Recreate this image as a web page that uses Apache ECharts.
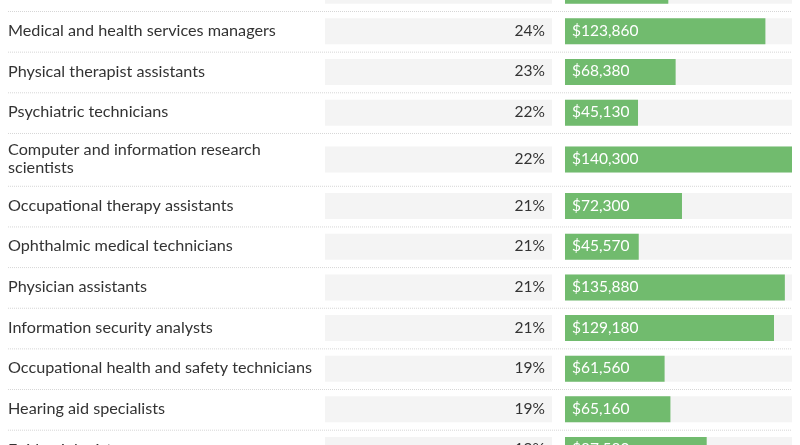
<!DOCTYPE html>
<html>
<head>
<meta charset="utf-8">
<script src="https://cdn.jsdelivr.net/npm/echarts@6/dist/echarts.min.js"></script>
<style>
html, body { margin: 0; padding: 0; background: #fff; }
#container { width: 800px; height: 445px; }
</style>
</head>
<body>
<div id="container"></div>
<script>
// rows as seen in the picture (first row is cut off at the top)
var jobs = [
    '',
    'Medical and health services managers',
    'Physical therapist assistants',
    'Psychiatric technicians',
    'Computer and information research\nscientists',
    'Occupational therapy assistants',
    'Ophthalmic medical technicians',
    'Physician assistants',
    'Information security analysts',
    'Occupational health and safety technicians',
    'Hearing aid specialists',
    'Epidemiologists'
];
var growth = [25, 24, 23, 22, 22, 21, 21, 21, 21, 19, 19, 19];
var salary = [63850, 123860, 68380, 45130, 140300, 72300, 45570, 135880, 129180, 61560, 65160, 87580];

var dom = document.getElementById('container');
var myChart = echarts.init(dom);

// each row takes one unit, wrapped labels take a bit more
var rows = [];
var pos = 0;
jobs.forEach(function (name, i) {
    var h = name.indexOf('\n') >= 0 ? 1.3 : 1;
    rows.push([salary[i], pos, pos + h, i]);
    pos += h;
});

var labelFont = '16.2px Lato';
var numFont = '15.5px Lato';

function renderRow(params, api) {
    var i = api.value(3);
    var yTop = api.coord([0, api.value(1)])[1];
    var yBot = api.coord([0, api.value(2)])[1];
    var x0 = api.coord([0, 0])[0];
    var x1 = api.coord([api.value(0), 0])[0];
    var xMax = params.coordSys.x + params.coordSys.width;
    var cy = (yTop + yBot) / 2;
    var h = 26;
    return {
        type: 'group',
        children: [
            {
                type: 'line',
                shape: { x1: 8, y1: yTop + 0.5, x2: xMax, y2: yTop + 0.5 },
                style: { stroke: '#d6d6d6', lineWidth: 1, lineDash: [1, 1] }
            },
            {
                type: 'rect',
                shape: { x: 325, y: cy - h / 2, width: 227, height: h },
                style: { fill: '#f4f4f4' }
            },
            {
                type: 'rect',
                shape: { x: x0, y: cy - h / 2, width: xMax - x0, height: h },
                style: { fill: '#f4f4f4' }
            },
            {
                type: 'rect',
                shape: { x: x0, y: cy - h / 2, width: x1 - x0, height: h },
                style: { fill: '#71bb6e' }
            },
            {
                type: 'text',
                style: {
                    text: jobs[i], x: 8, y: cy - 0.5, font: labelFont, fill: '#333',
                    align: 'left', verticalAlign: 'middle', lineHeight: 18
                }
            },
            {
                type: 'text',
                style: {
                    text: growth[i] + '%', x: 545, y: cy - 0.5, font: numFont, fill: '#333',
                    align: 'right', verticalAlign: 'middle'
                }
            },
            {
                type: 'text',
                style: {
                    text: '$' + salary[i].toLocaleString('en-US'), x: x0 + 7, y: cy - 0.5,
                    font: numFont, fill: '#fff', align: 'left', verticalAlign: 'middle'
                }
            }
        ]
    };
}

var option = {
    animation: false,
    grid: { left: 565, right: 8, top: 0, bottom: 0 },
    xAxis: { type: 'value', min: 0, max: Math.max.apply(null, salary), show: false },
    yAxis: { type: 'value', inverse: true, min: 0.729, max: 11.677, show: false },
    series: [{
        type: 'custom',
        renderItem: renderRow,
        encode: { x: 0, y: 1 },
        data: rows
    }]
};

myChart.setOption(option);
</script>
</body>
</html>
